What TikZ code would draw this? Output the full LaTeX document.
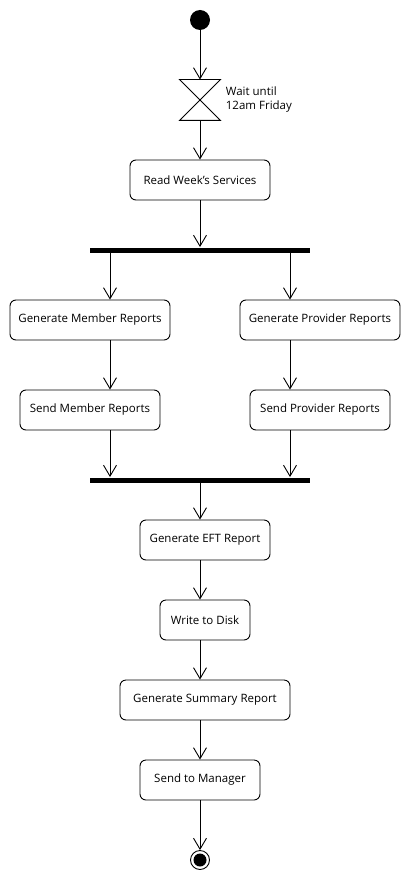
\documentclass[tikz,border=0pt]{standalone}
\usepackage{fontspec}
\setmainfont{Open Sans}
\usepackage{tikz}
\usetikzlibrary{arrows.meta,positioning}

\begin{document}
\begin{tikzpicture}[
    x=1pt, y=-1pt,
    line width=0.9pt,
    font=\fontsize{11.5}{14}\selectfont,
    action/.style={rectangle, draw, rounded corners=6pt, minimum height=40pt, inner sep=0pt},
    bar/.style={rectangle, fill=black, minimum width=220pt, minimum height=5pt, inner sep=0pt},
    flow/.style={-{Straight Barb[length=11pt,width=13pt,line width=0.9pt]}},
]
    \useasboundingbox (0,0) rectangle (410,880);

    \node[circle, fill=black, minimum size=20pt, inner sep=0pt] (start) at (200,20) {};
    \node[minimum width=40pt, minimum height=40pt, inner sep=0pt] (wait) at (200,100) {};
    \draw (wait.north west) -- (wait.north east) -- (wait.south west) -- (wait.south east) -- cycle;
    \node[right=5pt of wait, align=left, inner sep=0pt] (waitlabel) {Wait until\\12am Friday};

    \node[action, minimum width=140pt] (read) at (200,180) {Read Week's Services};
    \node[bar] (fork) at (200,250) {};

    \coordinate (left) at (110,0);
    \coordinate (right) at (290,0);
    \coordinate (mid) at (200,0);

    \node[action, minimum width=160pt] (genmember) at (90,320) {Generate Member Reports};
    \node[action, minimum width=160pt] (genprovider) at (320,320) {Generate Provider Reports};
    \node[action, minimum width=140pt] (sendmember) at (90,410) {Send Member Reports};
    \node[action, minimum width=140pt] (sendprovider) at (320,410) {Send Provider Reports};

    \node[bar] (join) at (200,480) {};

    \node[action, minimum width=130pt] (eft) at (205,540) {Generate EFT Report};
    \node[action, minimum width=90pt] (disk) at (205,620) {Write to Disk};
    \node[action, minimum width=170pt] (summary) at (205,700) {Generate Summary Report};
    \node[action, minimum width=120pt] (manager) at (200,780) {Send to Manager};

    \node[circle, draw, minimum size=19pt, inner sep=0pt] (end) at (200,860) {};
    \fill (end.center) circle (6.5pt);

    \draw[flow] (start) -- (wait.north);
    \draw[flow] (wait.south) -- (read);
    \draw[flow] (read) -- (fork.north);
    \draw[flow] (fork.south -| left) -- (genmember.north -| left);
    \draw[flow] (fork.south -| right) -- (genprovider.north -| right);
    \draw[flow] (genmember.south -| left) -- (sendmember.north -| left);
    \draw[flow] (genprovider.south -| right) -- (sendprovider.north -| right);
    \draw[flow] (sendmember.south -| left) -- (join.north -| left);
    \draw[flow] (sendprovider.south -| right) -- (join.north -| right);
    \draw[flow] (join.south -| mid) -- (eft.north -| mid);
    \draw[flow] (eft.south -| mid) -- (disk.north -| mid);
    \draw[flow] (disk.south -| mid) -- (summary.north -| mid);
    \draw[flow] (summary.south -| mid) -- (manager.north -| mid);
    \draw[flow] (manager) -- (end);
\end{tikzpicture}
\end{document}
